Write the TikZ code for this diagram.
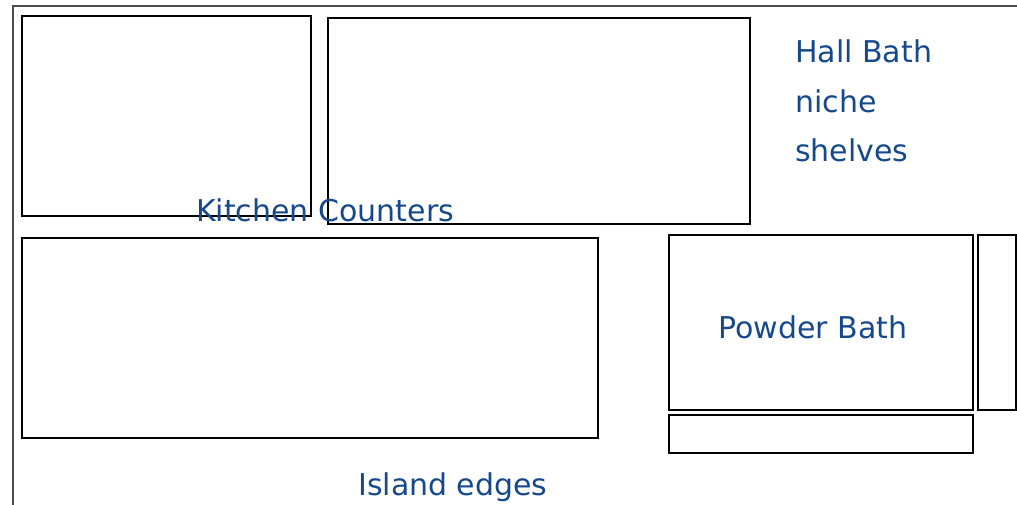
\documentclass[tikz,border=0pt]{standalone}
\usepackage{fontspec}
\setmainfont{DejaVu Sans}
\definecolor{lbl}{RGB}{22,72,140}
\begin{document}
\begin{tikzpicture}[x=1pt,y=-1pt,
  box/.style={draw=black,line width=1.8pt},
  lab/.style={text=lbl,font=\fontsize{30}{34}\selectfont,inner sep=0pt,anchor=west}]
\useasboundingbox (0,0) rectangle (1017,504);
\begin{scope}
\clip (0,0) rectangle (1017,504);
\draw[draw=black!70,line width=1.3pt] (13,6) rectangle (1040,530);
\end{scope}
\draw[box] (22,16) rectangle (311,216);
\draw[box] (328,18) rectangle (750,224);
\draw[box] (22,238) rectangle (598,438);
\draw[box] (669,235) rectangle (973,410);
\draw[box] (978,235) rectangle (1016,410);
\draw[box] (669,415) rectangle (973,453);
\node[lab] (hall) at (795,51) {Hall Bath};
\node[lab] (niche) at (795,101) {niche};
\node[lab] (shelves) at (795,150) {shelves};
\node[lab] (kitchen) at (196,210) {Kitchen Counters};
\node[lab] (powder) at (718,327) {Powder Bath};
\node[lab] (island) at (358,487) {Island edges};
\end{tikzpicture}
\end{document}
